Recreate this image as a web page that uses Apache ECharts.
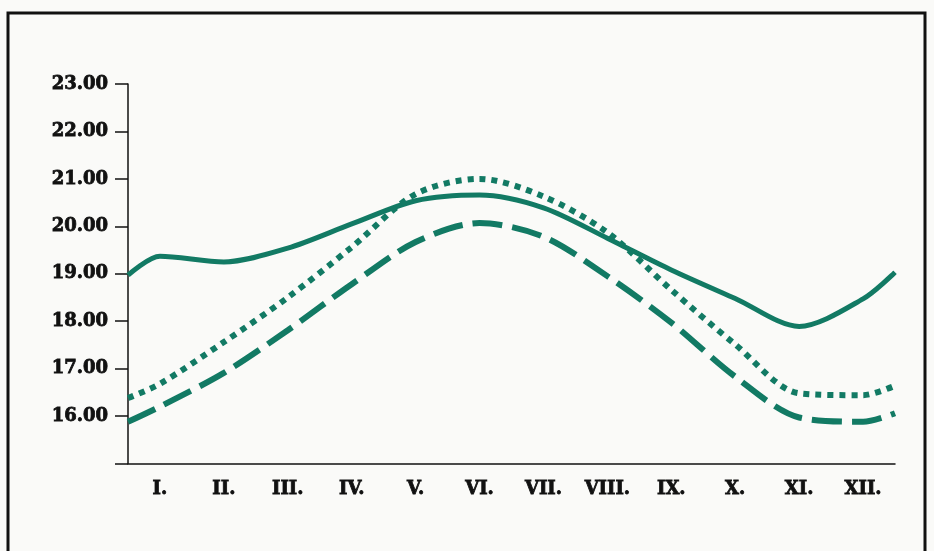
<!DOCTYPE html>
<html>
<head>
<meta charset="utf-8">
<title>chart</title>
<script src="https://cdn.jsdelivr.net/npm/echarts@6/dist/echarts.min.js"></script>
<style>
	html, body { margin: 0; padding: 0; background: #fafaf8; }
	#main { width: 934px; height: 551px; }
</style>
</head>
<body>
<div id="main"></div>
<script>
	'use strict';

	// x labels (months) and y ticks
	var months = ['I.', 'II.', 'III.', 'IV.', 'V.', 'VI.', 'VII.', 'VIII.', 'IX.', 'X.', 'XI.', 'XII.'];
	var yTicks = [15, 16, 17, 18, 19, 20, 21, 22, 23];

	// positions along the year (0 = start of I., 12 = end of XII.)
	var xPos = [0, 0.5, 1.5, 2.5, 3.5, 4.5, 5.5, 6.5, 7.5, 8.5, 9.5, 10.5, 11.5, 12];

	var solidVals = [18.97, 19.37, 19.25, 19.54, 20.05, 20.54, 20.66, 20.39, 19.75, 19.08, 18.48, 17.89, 18.47, 19.03];
	var dottedVals = [16.38, 16.68, 17.56, 18.50, 19.56, 20.68, 21.00, 20.63, 19.87, 18.66, 17.51, 16.48, 16.44, 16.64];
	var dashedVals = [15.88, 16.20, 16.91, 17.81, 18.78, 19.67, 20.07, 19.78, 18.95, 17.97, 16.83, 15.97, 15.88, 16.06];

	var green = '#127a64';
	var labelFont = {
		color: '#111',
		fontFamily: 'DejaVu Serif',
		fontWeight: 'bold',
		fontSize: 18,
		textBorderColor: '#111',
		textBorderWidth: 0.8
	};

	function pairs(vals) {
		return vals.map(function(v, i) {
			return [xPos[i], v];
		});
	}

	function line(name, vals, width, type) {
		return {
			name: name,
			type: 'line',
			xAxisIndex: 1,
			data: pairs(vals),
			smooth: 0.3,
			symbol: 'none',
			lineStyle: {
				color: green,
				width: width,
				type: type,
				cap: 'butt'
			}
		};
	}

	var myChart = echarts.init(document.getElementById('main'));

	myChart.setOption({
		animation: false,
		backgroundColor: '#fafaf8',
		grid: {
			left: 128,
			right: 39,
			top: 84,
			bottom: 87.5
		},
		xAxis: [{
			type: 'category',
			data: months,
			boundaryGap: true,
			axisLine: { lineStyle: { color: '#111', width: 1.5 } },
			axisTick: { length: 12, lineStyle: { color: '#111', width: 1.5 } },
			axisLabel: Object.assign({ margin: 17 }, labelFont),
			splitLine: { show: false }
		}, {
			type: 'value',
			min: 0,
			max: 12,
			show: false
		}],
		yAxis: {
			type: 'value',
			min: yTicks[0],
			max: yTicks[yTicks.length - 1],
			interval: 1,
			axisLine: { show: true, lineStyle: { color: '#111', width: 1.5 } },
			axisTick: { show: true, length: 13, lineStyle: { color: '#111', width: 1.5 } },
			axisLabel: Object.assign({
				margin: 20,
				formatter: function(v) {
					return v === yTicks[0] ? '' : v.toFixed(2);
				}
			}, labelFont),
			splitLine: { show: false }
		},
		graphic: [{
			type: 'rect',
			shape: { x: 8, y: 13, width: 917, height: 600 },
			style: { fill: null, stroke: '#111', lineWidth: 3 },
			silent: true
		}],
		series: [
			line('solid', solidVals, 5, 'solid'),
			line('dotted', dottedVals, 6, [6, 6]),
			line('dashed', dashedVals, 6, [30, 10])
		]
	});
</script>
</body>
</html>
